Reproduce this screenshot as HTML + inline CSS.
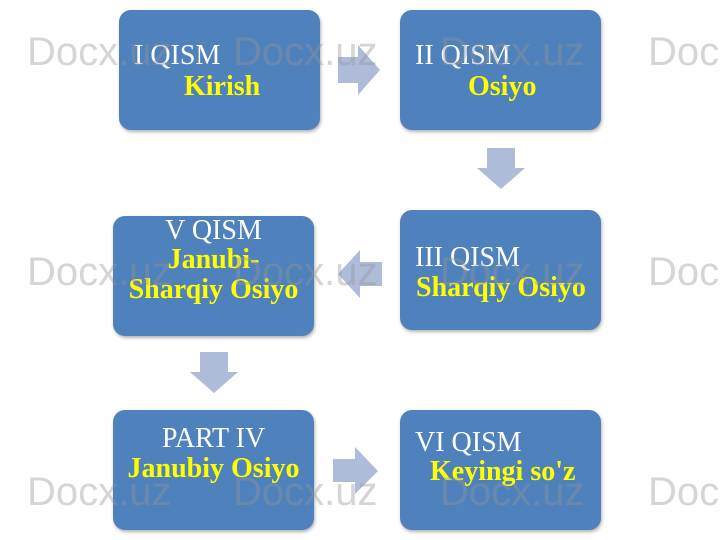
<!DOCTYPE html>
<html><head><style>
body{margin:0;width:720px;height:540px;background:#fff;position:relative;overflow:hidden;font-family:"Liberation Serif",serif;}
.b{position:absolute;width:201px;height:120px;background:#4f81bd;border-radius:12px;box-shadow:1px 2px 3px rgba(0,0,0,.3);color:#fff;font-size:28px;line-height:30px;}
.b span{position:absolute;white-space:nowrap;}
.y{color:#ffff00;font-weight:bold;}
.w{position:absolute;font-family:"Liberation Sans",sans-serif;font-size:40px;color:rgba(150,150,150,.4);white-space:nowrap;}
svg{position:absolute;left:0;top:0;}
</style></head><body>
<div class="b" style="left:119px;top:10px"><span style="left:15px;top:31px">I QISM</span><span class="y" style="left:65px;top:62px">Kirish</span></div>
<div class="b" style="left:400px;top:10px"><span style="left:15px;top:31px">II QISM</span><span class="y" style="left:68px;top:62px">Osiyo</span></div>
<div class="b" style="left:400px;top:210px"><span style="left:15px;top:33px">III QISM</span><span class="y" style="left:16px;top:63px">Sharqiy Osiyo</span></div>
<div class="b" style="left:113px;top:216px;text-align:center"><span style="left:0;right:0;top:0px">V QISM</span><span class="y" style="left:0;right:0;top:29px">Janubi-</span><span class="y" style="left:0;right:0;top:59px">Sharqiy Osiyo</span></div>
<div class="b" style="left:113px;top:410px;text-align:center"><span style="left:0;right:0;top:14px">PART IV</span><span class="y" style="left:0;right:0;top:44px">Janubiy Osiyo</span></div>
<div class="b" style="left:400px;top:410px"><span style="left:15px;top:18px">VI QISM</span><span class="y" style="left:30px;top:47px">Keyingi so'z</span></div>
<svg width="720" height="540">
<g fill="#aebbd9">
<polygon points="338,57 358,57 358,45 380,70 358,95 358,83 338,83"/>
<polygon points="487,148 515,148 515,168 525,168 501,189 477,168 487,168"/>
<polygon points="382,262 360,262 360,250 338,274 360,298 360,286 382,286"/>
<polygon points="200,352 228,352 228,372 238,372 214,393 190,372 200,372"/>
<polygon points="333,459 355,459 355,447 378,471 355,494 355,482 333,482"/>
</g></svg>
<div class="w" style="left:27px;top:30px">Docx.uz</div><div class="w" style="left:233px;top:30px">Docx.uz</div><div class="w" style="left:440px;top:30px">Docx.uz</div><div class="w" style="left:648px;top:30px">Docx.uz</div>
<div class="w" style="left:27px;top:250px">Docx.uz</div><div class="w" style="left:233px;top:250px">Docx.uz</div><div class="w" style="left:440px;top:250px">Docx.uz</div><div class="w" style="left:648px;top:250px">Docx.uz</div>
<div class="w" style="left:27px;top:470px">Docx.uz</div><div class="w" style="left:233px;top:470px">Docx.uz</div><div class="w" style="left:440px;top:470px">Docx.uz</div><div class="w" style="left:648px;top:470px">Docx.uz</div>
</body></html>
